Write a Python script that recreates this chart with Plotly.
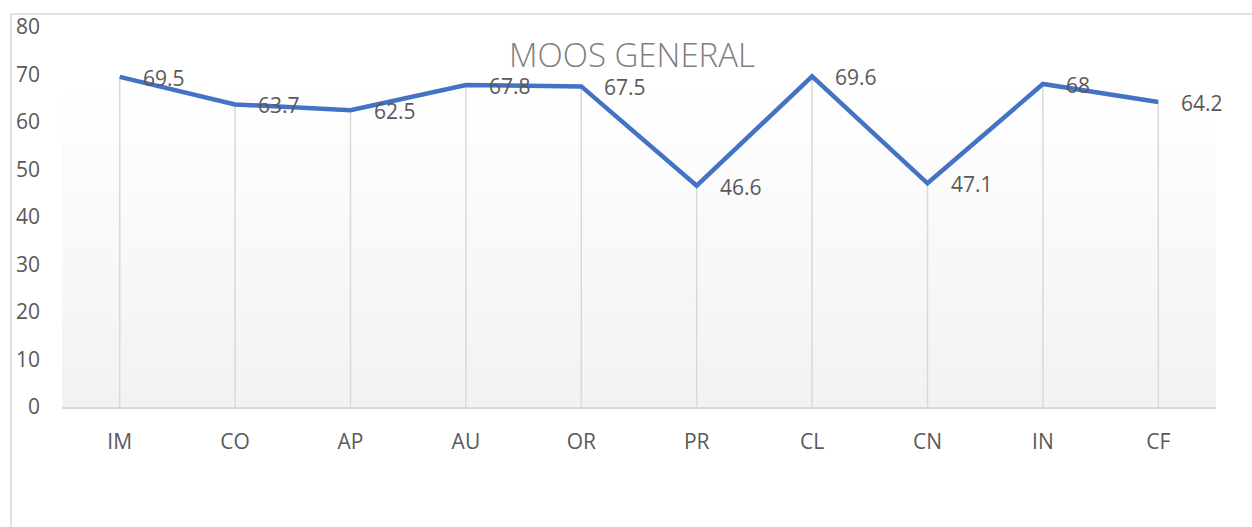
import plotly.graph_objects as go

# Series data
categories = ["IM", "CO", "AP", "AU", "OR", "PR", "CL", "CN", "IN", "CF"]
values = [69.5, 63.7, 62.5, 67.8, 67.5, 46.6, 69.6, 47.1, 68, 64.2]
y_ticks = [0, 10, 20, 30, 40, 50, 60, 70, 80]

LINE_BLUE = "#4472C4"
GRID_GRAY = "#D9D9D9"
TEXT_GRAY = "#595959"
FONT = "Open Sans"

fig = go.Figure()

# Drop lines from the axis up to each point
drop_x, drop_y = [], []
for c, v in zip(categories, values):
    drop_x += [c, c, None]
    drop_y += [0, v, None]
fig.add_trace(go.Scatter(
    x=drop_x, y=drop_y, mode="lines",
    line=dict(color=GRID_GRAY, width=1.5),
    hoverinfo="skip", showlegend=False,
))

# Main series
fig.add_trace(go.Scatter(
    x=categories, y=values, mode="lines",
    line=dict(color=LINE_BLUE, width=4.5),
    showlegend=False,
))

# Value labels to the right of each point
annotations = []
for c, v in zip(categories, values):
    annotations.append(dict(
        x=c, y=v, xref="x", yref="y", text=f"{v:g}",
        showarrow=False, xanchor="left", yanchor="middle",
        xshift=21, yshift=-1,
        font=dict(family=FONT, size=21, color=TEXT_GRAY),
    ))

# Plot-area background: vertical gradient, white to light gray
shapes = []
top_frac = 0.8665
n_bands = 40
for i in range(n_bands):
    y0 = top_frac * (1 - (i + 1) / n_bands)
    y1 = top_frac * (1 - i / n_bands)
    t = i / (n_bands - 1)
    g = round(255 - t * (255 - 242))
    shapes.append(dict(
        type="rect", xref="paper", yref="paper",
        x0=0, x1=1, y0=y0, y1=y1,
        fillcolor=f"rgb({g},{g},{g})", line=dict(width=0),
        layer="below",
    ))

# Chart-area frame (top and left edges)
shapes.append(dict(type="line", xref="paper", yref="paper",
                   x0=-51 / 1154, x1=1.1, y0=(407 - 12) / 382, y1=(407 - 12) / 382,
                   line=dict(color=GRID_GRAY, width=1.5), layer="below"))
shapes.append(dict(type="line", xref="paper", yref="paper",
                   x0=-51 / 1154, x1=-51 / 1154, y0=(407 - 12) / 382, y1=-0.4,
                   line=dict(color=GRID_GRAY, width=1.5), layer="below"))

fig.update_layout(
    width=1252, height=527,
    margin=dict(l=62, r=36, t=25, b=120),
    paper_bgcolor="white",
    plot_bgcolor="rgba(0,0,0,0)",
    title=dict(
        text="MOOS GENERAL",
        x=632 / 1252, xanchor="center",
        y=1 - 55 / 527, yanchor="middle",
        font=dict(family=FONT, size=33, color="#7F7F7F", weight=300),
    ),
    annotations=annotations,
    shapes=shapes,
    xaxis=dict(
        type="category",
        categoryorder="array", categoryarray=categories,
        range=[-0.5, len(categories) - 0.5],
        showgrid=False, zeroline=False,
        showline=True, linecolor=GRID_GRAY, linewidth=1.5,
        ticks="", ticklabelstandoff=15,
        tickfont=dict(family=FONT, size=21, color=TEXT_GRAY),
        fixedrange=True,
    ),
    yaxis=dict(
        range=[0, 80],
        tickvals=y_ticks,
        showgrid=False, zeroline=False, showline=False,
        ticks="", ticklabelstandoff=21,
        tickfont=dict(family=FONT, size=21, color=TEXT_GRAY),
        fixedrange=True,
    ),
)

fig.write_html("out.html")
